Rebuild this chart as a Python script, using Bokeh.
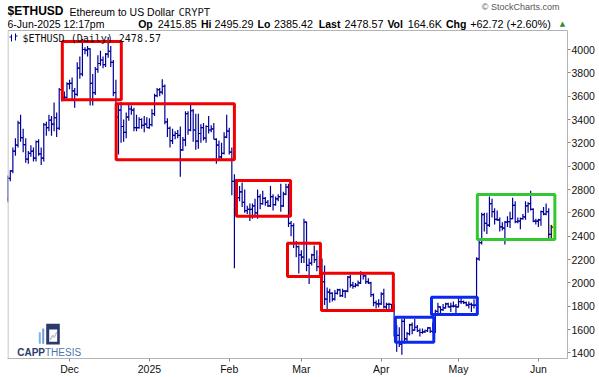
import pandas as pd
from bokeh.plotting import figure
from bokeh.models import (ColumnDataSource, FixedTicker, Label, BoxAnnotation,
                          PolyAnnotation, Range1d)
from bokeh.embed import file_html
from bokeh.resources import INLINE

# ---------------- data ----------------
symbol = "$ETHUSD"
name = "Ethereum to US Dollar"
exchange = "CRYPT"
stamp = "6-Jun-2025 12:17pm"
volume = "164.6K"
first_day = "2024-11-07"
last_day = "2025-06-06"

opens = [
    # Nov 7-30
    2720, 2895, 2960, 3130, 3180, 3370, 3245, 3185, 3060, 3110, 3130, 3070, 3210, 3105, 3070, 3355, 3330, 3395, 3360, 3415, 3325, 3655, 3590, 3590,
    # Dec
    3705, 3710, 3645, 3615, 3840, 3790, 4000, 3995, 4005, 3710, 3630, 3830, 3880, 3910, 3870, 3960, 3985, 3890, 3630, 3420, 3480, 3340, 3290, 3420, 3490, 3480, 3330, 3330, 3400, 3350, 3360,
    # Jan
    3330, 3355, 3450, 3605, 3655, 3635, 3685, 3380, 3325, 3220, 3265, 3280, 3265, 3140, 3225, 3450, 3310, 3475, 3310, 3215, 3280, 3330, 3240, 3340, 3310, 3320, 3230, 3180, 3080, 3110, 3250,
    # Feb
    3300, 3120, 2870, 2880, 2730, 2780, 2690, 2620, 2630, 2630, 2660, 2600, 2740, 2680, 2725, 2690, 2660, 2740, 2670, 2720, 2740, 2660, 2760, 2820, 2510, 2490, 2340, 2310,
    # Mar
    2240, 2220, 2520, 2150, 2170, 2240, 2200, 2140, 2200, 2010, 1860, 1920, 1910, 1860, 1910, 1940, 1890, 1930, 1930, 2050, 1980, 1970, 1980, 2000, 2080, 2060, 2010, 2000, 1900, 1830, 1820,
    # Apr
    1820, 1905, 1795, 1815, 1815, 1805, 1580, 1550, 1475, 1670, 1520, 1565, 1640, 1595, 1620, 1590, 1575, 1580, 1590, 1615, 1585, 1580, 1755, 1795, 1770, 1785, 1820, 1795, 1800, 1800,
    # May
    1795, 1840, 1840, 1830, 1810, 1815, 1810, 1810, 2205, 2345, 2585, 2510, 2495, 2680, 2610, 2545, 2540, 2480, 2470, 2520, 2525, 2550, 2665, 2525, 2530, 2550, 2565, 2660, 2680, 2630, 2530,
    # Jun 1-6
    2530, 2540, 2610, 2590, 2610, 2415.85,
]
highs = [
    2920, 2965, 3160, 3240, 3390, 3440, 3320, 3240, 3130, 3180, 3160, 3220, 3230, 3160, 3370, 3380, 3440, 3430, 3545, 3460, 3670, 3670, 3640, 3720,
    3740, 3760, 3670, 3890, 3940, 4090, 4020, 4030, 4010, 3790, 3850, 3950, 3990, 3940, 3970, 4107, 4030, 3910, 3740, 3530, 3550, 3400, 3460, 3530, 3520, 3500, 3440, 3420, 3410, 3430, 3420,
    3410, 3490, 3620, 3670, 3670, 3745, 3700, 3410, 3340, 3320, 3300, 3310, 3340, 3250, 3470, 3470, 3525, 3490, 3450, 3450, 3360, 3370, 3350, 3430, 3350, 3370, 3240, 3220, 3200, 3290, 3440,
    3330, 3160, 2930, 2890, 2830, 2860, 2800, 2660, 2680, 2680, 2720, 2800, 2760, 2790, 2735, 2710, 2830, 2760, 2740, 2760, 2850, 2780, 2850, 2850, 2530, 2510, 2360, 2320,
    2280, 2550, 2525, 2210, 2250, 2320, 2280, 2230, 2210, 2150, 1960, 1950, 1920, 1940, 1950, 1950, 1950, 1940, 2060, 2070, 2010, 2000, 2020, 2100, 2090, 2070, 2040, 2010, 1910, 1850, 1860,
    1920, 1950, 1830, 1830, 1820, 1815, 1640, 1620, 1690, 1700, 1580, 1650, 1660, 1690, 1640, 1610, 1610, 1600, 1620, 1620, 1660, 1770, 1830, 1800, 1820, 1830, 1830, 1830, 1840, 1820,
    1870, 1870, 1850, 1840, 1840, 1830, 1860, 2220, 2380, 2600, 2600, 2600, 2740, 2720, 2640, 2620, 2560, 2520, 2530, 2570, 2610, 2730, 2700, 2560, 2560, 2590, 2700, 2690, 2790, 2640, 2550,
    2550, 2620, 2650, 2680, 2640, 2495.29,
]
lows = [
    2690, 2870, 2940, 3090, 3160, 3210, 3120, 3030, 3020, 3080, 3040, 3040, 3090, 3010, 3040, 3260, 3300, 3260, 3300, 3250, 3310, 3555, 3560, 3580,
    3660, 3570, 3500, 3600, 3750, 3770, 3960, 3940, 3520, 3520, 3610, 3800, 3860, 3840, 3850, 3930, 3850, 3600, 3400, 3100, 3200, 3210, 3240, 3390, 3440, 3300, 3300, 3320, 3320, 3290, 3330,
    3320, 3340, 3430, 3590, 3600, 3615, 3360, 3250, 3160, 3190, 3230, 3240, 2910, 3130, 3170, 3270, 3300, 3210, 3140, 3150, 3200, 3220, 3200, 3280, 3290, 3230, 3020, 3060, 3050, 3100, 3240,
    3100, 2750, 2125, 2650, 2700, 2650, 2600, 2590, 2530, 2550, 2570, 2550, 2630, 2670, 2660, 2650, 2650, 2620, 2660, 2700, 2610, 2650, 2750, 2480, 2400, 2300, 2220, 2080,
    2170, 2170, 2100, 1990, 2150, 2170, 2100, 2130, 1990, 1810, 1760, 1830, 1840, 1850, 1900, 1880, 1880, 1870, 1920, 1960, 1950, 1960, 1970, 1990, 2030, 1990, 1990, 1880, 1800, 1780, 1790,
    1810, 1780, 1760, 1750, 1770, 1540, 1410, 1450, 1385, 1480, 1500, 1550, 1560, 1590, 1580, 1540, 1565, 1570, 1580, 1570, 1570, 1570, 1740, 1730, 1760, 1780, 1790, 1750, 1790, 1740,
    1790, 1820, 1820, 1800, 1780, 1750, 1780, 1800, 2190, 2330, 2440, 2420, 2480, 2560, 2500, 2530, 2440, 2450, 2330, 2480, 2470, 2545, 2510, 2510, 2460, 2540, 2540, 2600, 2620, 2520, 2500,
    2480, 2490, 2580, 2580, 2380, 2385.42,
]
closes = [
    2895, 2960, 3130, 3180, 3370, 3245, 3185, 3060, 3110, 3130, 3070, 3210, 3105, 3070, 3355, 3330, 3395, 3360, 3415, 3325, 3655, 3590, 3590, 3705,
    3710, 3645, 3615, 3840, 3790, 4000, 3995, 4005, 3710, 3630, 3830, 3880, 3910, 3870, 3960, 3985, 3890, 3630, 3420, 3480, 3340, 3290, 3420, 3490, 3480, 3330, 3330, 3400, 3350, 3360, 3330,
    3355, 3450, 3605, 3655, 3635, 3685, 3380, 3325, 3220, 3265, 3280, 3265, 3140, 3225, 3450, 3310, 3475, 3310, 3215, 3280, 3330, 3240, 3340, 3310, 3320, 3230, 3180, 3080, 3110, 3250, 3300,
    3120, 2870, 2880, 2730, 2780, 2690, 2620, 2630, 2630, 2660, 2600, 2740, 2680, 2725, 2690, 2660, 2740, 2670, 2720, 2740, 2660, 2760, 2820, 2510, 2490, 2340, 2310, 2240,
    2220, 2520, 2150, 2170, 2240, 2200, 2140, 2200, 2010, 1860, 1920, 1910, 1860, 1910, 1940, 1890, 1930, 1930, 2050, 1980, 1970, 1980, 2000, 2080, 2060, 2010, 2000, 1900, 1830, 1820, 1820,
    1905, 1795, 1815, 1815, 1805, 1580, 1550, 1475, 1670, 1520, 1565, 1640, 1595, 1620, 1590, 1575, 1580, 1590, 1615, 1585, 1580, 1755, 1795, 1770, 1785, 1820, 1795, 1800, 1800, 1795,
    1840, 1840, 1830, 1810, 1815, 1810, 1810, 2205, 2345, 2585, 2510, 2495, 2680, 2610, 2545, 2540, 2480, 2470, 2520, 2525, 2550, 2665, 2525, 2530, 2550, 2565, 2660, 2680, 2630, 2530, 2530,
    2540, 2610, 2590, 2610, 2415.85, 2478.57,
]

month_starts = ["2024-12-01", "2025-01-01", "2025-02-01", "2025-03-01",
                "2025-04-01", "2025-05-01", "2025-06-01"]
month_labels = ["Dec", "2025", "Feb", "Mar", "Apr", "May", "Jun"]
price_ticks = [1400, 1600, 1800, 2000, 2200, 2400, 2600, 2800, 3000,
               3200, 3400, 3600, 3800, 4000]

# trading-range boxes: start / end (days after first bar), price low / high
box_start = [21.2, 42.1, 88.8, 108.6, 121.8, 150.5, 164.5, 182.3]
box_end = [44.1, 88.0, 109.8, 121.4, 149.7, 165.4, 182.3, 212.4]
box_low = [3569, 3055, 2571, 2055, 1763, 1492, 1729, 2372]
box_high = [4069, 3535, 2877, 2340, 2083, 1706, 1877, 2757]
box_kind = ["red", "red", "red", "red", "red", "blue", "blue", "green"]

# ---------------- styles / layout ----------------
BAR = "#000099"
KIND_COLOR = {"red": "#f00000", "blue": "#0a28f0", "green": "#33c833"}
GRID = "#b4b4b4"
W, H = 599, 377
LEFT, RIGHT, BOTTOM = 7, 32, 19
FB = H - BOTTOM            # frame bottom in canvas pixels
Y_LO, Y_HI = 1352, 4420    # price at frame bottom / canvas top
PANEL_TOP = 4163           # price where the chart panel border starts

dates = pd.date_range(first_day, last_day, freq="D")
t0 = dates[0]
day = [int((d - t0).days) for d in dates]
tick_x = [int((pd.Timestamp(m) - t0).days) for m in month_starts]

src = ColumnDataSource(dict(
    x=day, xl=[d - 0.75 for d in day], xr=[d + 0.75 for d in day],
    o=opens, h=highs, l=lows, c=closes))

p = figure(width=W, height=H, output_backend="svg", toolbar_location=None,
           x_range=Range1d(-0.08, 217.3), y_range=Range1d(Y_LO, Y_HI),
           y_axis_location="right", min_border_left=LEFT, min_border_top=0,
           min_border_right=RIGHT, min_border_bottom=BOTTOM,
           background_fill_color="white", border_fill_color="white",
           outline_line_color=None)
p.grid.visible = False

# latest-bar highlight
p.quad(left=[day[-1] - 0.9], right=[day[-1] + 0.9], bottom=[lows[-1]],
       top=[highs[-1] + 10], fill_color="#ffff70", line_color=None)

p.segment("x", "l", "x", "h", source=src, line_color=BAR, line_width=1.2)
p.segment("xl", "o", "x", "o", source=src, line_color=BAR, line_width=1.2)
p.segment("x", "c", "xr", "c", source=src, line_color=BAR, line_width=1.2)

p.quad(left=box_start, right=box_end, bottom=box_low, top=box_high,
       fill_alpha=0, line_color=[KIND_COLOR[k] for k in box_kind], line_width=3)

for ax in (p.xaxis[0], p.yaxis[0]):
    ax.axis_line_color = GRID
    ax.major_tick_line_color = "#888888"
    ax.major_tick_in = 0
    ax.major_tick_out = 3
    ax.minor_tick_line_color = None
    ax.major_label_text_font = "Liberation Sans"
    ax.major_label_text_font_size = "10.5px"
    ax.major_label_text_color = "#111111"
    ax.major_label_standoff = 1

p.xaxis.ticker = FixedTicker(ticks=tick_x)
p.xaxis.major_label_overrides = {t: lab for t, lab in zip(tick_x, month_labels)}
p.yaxis.ticker = FixedTicker(ticks=price_ticks)
p.yaxis.bounds = (Y_LO, PANEL_TOP)

FRAME_W = W - LEFT - RIGHT


def sbox(l, r, b, t, fill=None, line=None, lw=1):
    p.add_layout(BoxAnnotation(left=l, right=r, bottom=b, top=t,
                               left_units="screen", right_units="screen",
                               bottom_units="screen", top_units="screen",
                               fill_color=fill if fill else "white",
                               fill_alpha=1 if fill else 0,
                               line_color=line, line_width=lw,
                               line_alpha=1 if line else 0))


# chart panel border (left + top edges)
sbox(0.5, FRAME_W, 0, FB - 30, line=GRID)


def put(text, page_x, page_y, size, font="Liberation Sans", style="normal",
        color="#000000", align="left"):
    p.add_layout(Label(x=page_x - LEFT, y=FB - page_y, x_units="screen",
                       y_units="screen", text=text, text_font=font,
                       text_font_size=size, text_font_style=style,
                       text_color=color, text_align=align,
                       text_baseline="middle"))


chg = closes[-1] - closes[-2]
pct = chg / closes[-2] * 100

put(symbol, 7, 10, "12px", style="bold")
put(name, 69, 11, "10.5px")
put(exchange, 178, 11, "10.5px", font="DejaVu Sans Mono", color="#222222")
put("\u00a9 StockCharts.com", 559, 6, "9px", color="#555555", align="right")

L2 = 23.5
VAL = "10.8px"
KEY = "10.5px"
put(stamp, 7, L2, "10.5px")
put("Op", 137.7, L2, KEY, style="bold")
put(f"{opens[-1]:.2f}", 157.2, L2, VAL)
put("Hi", 200.5, L2, KEY, style="bold")
put(f"{highs[-1]:.2f}", 214.0, L2, VAL)
put("Lo", 257.0, L2, KEY, style="bold")
put(f"{lows[-1]:.2f}", 273.5, L2, VAL)
put("Last", 318.3, L2, KEY, style="bold")
put(f"{closes[-1]:.2f}", 343.9, L2, VAL)
put("Vol", 386.9, L2, KEY, style="bold")
put(volume, 407.2, L2, VAL)
put("Chg", 445.4, L2, KEY, style="bold")
put(f"{chg:+.2f} ({pct:+.2f}%)", 469.8, L2, VAL)
put("\u25b2", 562, L2, "7px", font="DejaVu Sans", color="#2e8b2e", align="center")

put(f"{symbol} (Daily) {closes[-1]:.2f}", 22, 38, "10px",
    font="DejaVu Sans Mono", color="#111111")

# small bar icon before the legend text
sbox(3.5, 4.5, FB - 41, FB - 34, fill=BAR)
sbox(2.0, 4.0, FB - 37, FB - 36, fill=BAR)
sbox(7.5, 8.5, FB - 40, FB - 33, fill=BAR)
sbox(8.0, 10.0, FB - 36, FB - 35, fill=BAR)


# logo (positions measured from canvas: x, y)
def lbox(x0, x1, y0, y1, color):
    sbox(x0 - LEFT, x1 - LEFT, FB - y1, FB - y0, fill=color)


lbox(38.3, 40.3, 331.7, 343.3, "#7fb2e5")
lbox(41.7, 43.7, 328.0, 343.3, "#6a9fd8")
lbox(45.7, 59.3, 323.3, 344.0, "#2b3a6b")
lbox(48.7, 56.7, 329.0, 341.3, "#ffffff")
lx = [49.5, 52.2, 53.8, 56.3, 53.8, 52.2]
ly = [339.5, 335.0, 336.7, 331.5, 336.7, 335.0]
p.add_layout(PolyAnnotation(xs=[v - LEFT for v in lx], ys=[FB - v for v in ly],
                            xs_units="screen", ys_units="screen",
                            fill_alpha=0, line_color="#2b3a6b", line_width=1.5))
put("CAPP", 16.7, 351.5, "10px", style="bold", color="#2b3a6b")
put("THESIS", 44.5, 351.5, "10px", color="#4f73ad")

open("out.html", "w").write(file_html(p, INLINE, "ETHUSD"))
